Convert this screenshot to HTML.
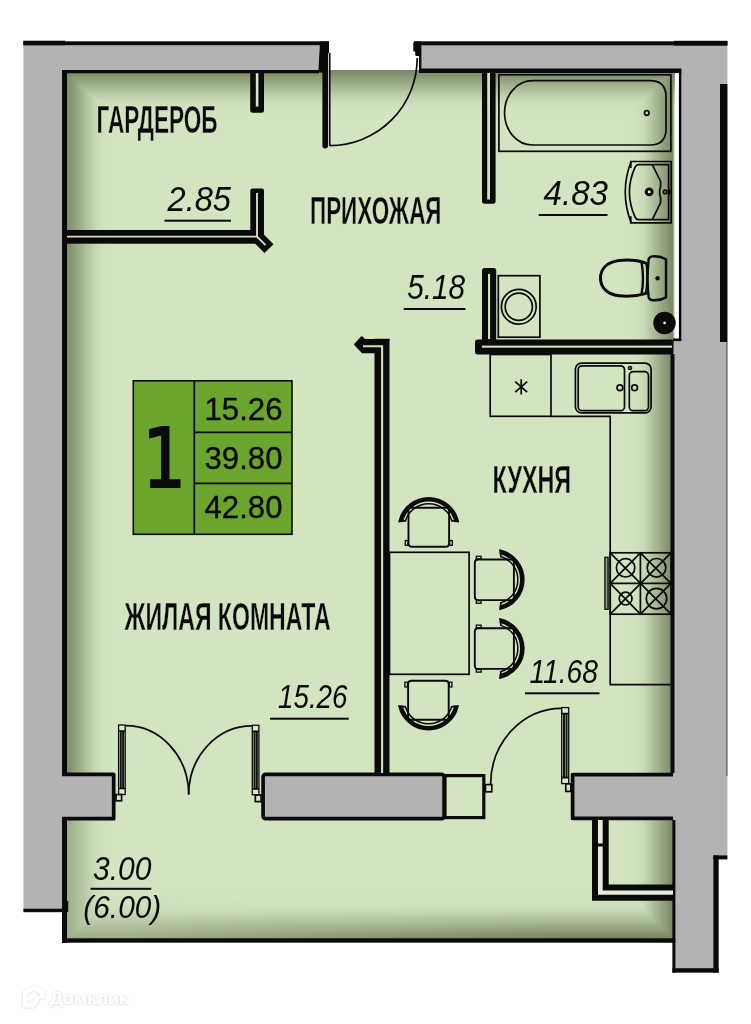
<!DOCTYPE html>
<html lang="ru"><head><meta charset="utf-8"><title>План квартиры</title>
<style>
html,body{margin:0;padding:0;background:#fff;}
body{width:751px;height:1024px;overflow:hidden;}
svg{display:block}
text{font-family:"Liberation Sans",sans-serif;fill:#0a0a0a;}
.lbl{font-weight:bold;font-size:38.8px;stroke:#d3e4c1;stroke-width:.4px;}
.num{font-style:italic;font-size:33px;}
.leg{font-size:31.5px;stroke:#0a0a0a;stroke-width:.35px;}
.k{fill:#0a0a0a;}
.g{fill:#b3b3b3;}
.ln{fill:none;stroke:#0a0a0a;stroke-width:1.7;}
</style></head>
<body>
<svg width="751" height="1024" viewBox="0 0 751 1024">
<defs>
<linearGradient id="shT" x1="0" y1="0" x2="0" y2="1"><stop offset="0" stop-color="#768662"/><stop offset="0.22" stop-color="#92a27e"/><stop offset="0.37" stop-color="#a5b692"/><stop offset="0.5" stop-color="#b7c8a4"/><stop offset="0.65" stop-color="#c8d9b6"/><stop offset="0.8" stop-color="#d0e1be"/><stop offset="1" stop-color="#d3e4c1"/></linearGradient>
<linearGradient id="shB" x1="0" y1="1" x2="0" y2="0"><stop offset="0" stop-color="#99aa86"/><stop offset="0.22" stop-color="#abbb98"/><stop offset="0.37" stop-color="#b7c7a4"/><stop offset="0.5" stop-color="#c2d3af"/><stop offset="0.65" stop-color="#ccddba"/><stop offset="0.8" stop-color="#d1e2bf"/><stop offset="1" stop-color="#d3e4c1"/></linearGradient>
<linearGradient id="shB2" x1="0" y1="1" x2="0" y2="0"><stop offset="0" stop-color="#71815d"/><stop offset="0.22" stop-color="#8f9f7b"/><stop offset="0.37" stop-color="#a3b490"/><stop offset="0.5" stop-color="#b6c6a3"/><stop offset="0.65" stop-color="#c7d8b5"/><stop offset="0.8" stop-color="#d0e1be"/><stop offset="1" stop-color="#d3e4c1"/></linearGradient>
<linearGradient id="shL" x1="0" y1="0" x2="1" y2="0"><stop offset="0" stop-color="#7b8b67"/><stop offset="0.22" stop-color="#95a582"/><stop offset="0.37" stop-color="#a8b895"/><stop offset="0.5" stop-color="#b8c9a6"/><stop offset="0.65" stop-color="#c8d9b6"/><stop offset="0.8" stop-color="#d0e1be"/><stop offset="1" stop-color="#d3e4c1"/></linearGradient>
<linearGradient id="shL2" x1="0" y1="0" x2="1" y2="0"><stop offset="0" stop-color="#9bac88"/><stop offset="0.22" stop-color="#acbd99"/><stop offset="0.37" stop-color="#b8c8a5"/><stop offset="0.5" stop-color="#c2d3b0"/><stop offset="0.65" stop-color="#ccddba"/><stop offset="0.8" stop-color="#d1e2bf"/><stop offset="1" stop-color="#d3e4c1"/></linearGradient>
<linearGradient id="shR" x1="1" y1="0" x2="0" y2="0"><stop offset="0" stop-color="#768662"/><stop offset="0.22" stop-color="#92a27e"/><stop offset="0.37" stop-color="#a5b692"/><stop offset="0.5" stop-color="#b7c8a4"/><stop offset="0.65" stop-color="#c8d9b6"/><stop offset="0.8" stop-color="#d0e1be"/><stop offset="1" stop-color="#d3e4c1"/></linearGradient>
<filter id="ws" x="-10%" y="-30%" width="120%" height="160%"><feDropShadow dx="0" dy="0.4" stdDeviation="1.1" flood-color="#000" flood-opacity=".2"/></filter>
<linearGradient id="mH" x1="0" y1="0" x2="1" y2="0"><stop offset="0.1" stop-color="#fff" stop-opacity="0"/><stop offset=".8" stop-color="#fff" stop-opacity="1"/></linearGradient>
<mask id="mkB" maskUnits="userSpaceOnUse" x="60" y="880" width="620" height="70"><rect x="60" y="880" width="620" height="70" fill="url(#mH)"/></mask>
<g id="chair">
<path d="M-28,-6.5 A28.75,28.75 0 0 1 28,-6.5" fill="none" stroke="#0a0a0a" stroke-width="4.6"/>
<path d="M-23.4,-6.5 A24.3,24.3 0 0 1 23.4,-6.5" fill="none" stroke="#0a0a0a" stroke-width="1.5"/>
<path d="M-30.3,-6.2 L-22.8,-7.4 M30.3,-6.2 L22.8,-7.4" fill="none" stroke="#0a0a0a" stroke-width="1.6"/>
<path d="M-20.2,-20.3 V15.3 Q-20.2,18.8 -16.7,18.8 H16.9 Q20.4,18.8 20.4,15.3 V-20.3 Z" fill="none" stroke="#0a0a0a" stroke-width="1.9"/>
<rect x="-23.4" y="12.5" width="2.6" height="4.8" fill="none" stroke="#0a0a0a" stroke-width="1.3"/>
<rect x="21" y="12.5" width="2.6" height="4.8" fill="none" stroke="#0a0a0a" stroke-width="1.3"/>
</g>
</defs>
<!-- floor -->
<rect x="62" y="70" width="613.2" height="873" fill="#d3e4c1"/>
<g style="mix-blend-mode:darken"><rect x="62" y="70" width="613" height="46" fill="url(#shT)"/></g>
<g style="mix-blend-mode:darken"><rect x="62" y="894" width="613" height="46" fill="url(#shB)"/></g>
<g style="mix-blend-mode:darken"><rect x="62" y="894" width="613" height="46" fill="url(#shB2)" mask="url(#mkB)"/></g>
<g style="mix-blend-mode:darken"><rect x="66.5" y="70" width="46" height="750" fill="url(#shL)"/></g>
<g style="mix-blend-mode:darken"><rect x="66.5" y="820" width="46" height="123" fill="url(#shL2)"/></g>
<g style="mix-blend-mode:darken"><rect x="627.5" y="70" width="46" height="873" fill="url(#shR)"/></g>

<!-- outer walls -->
<rect class="k" x="62" y="70" width="5" height="873"/>
<path class="g" d="M23.4,42 H320 L318,72 H62 V910 H23.4 Z"/>
<path class="g" d="M421,42 H727.4 V857 H718.6 V972.6 H673.5 V340 H680 V72 H421 Z"/>
<rect class="k" x="23.4" y="41.3" width="305.6" height="3.9"/>
<rect class="k" x="23.4" y="40.7" width="41.8" height="4.5"/>
<rect class="k" x="62" y="70" width="257" height="3.3"/>
<rect class="k" x="62" y="72" width="5" height="701"/>
<rect class="k" x="62" y="820" width="5" height="123"/>
<rect class="k" x="23.4" y="908.7" width="44" height="3.5"/>
<rect class="k" x="62" y="901" width="6.2" height="11"/>
<rect class="k" x="414" y="41.3" width="313.4" height="4"/>
<rect class="k" x="674" y="40.8" width="53.4" height="4.8"/>
<rect class="k" x="419" y="68.5" width="262.3" height="4.5"/>
<rect fill="#fff" x="675.2" y="73" width="3.9" height="265.5"/>
<rect class="k" x="678.9" y="69" width="2.4" height="272"/>
<rect class="k" x="673" y="338.5" width="8.3" height="2.6"/>
<rect class="k" x="720" y="84" width="7.4" height="258"/>
<rect fill="#3a3a3a" x="726.5" y="342" width="0.9" height="434"/>
<rect class="k" x="670.5" y="354" width="4" height="419"/>
<rect class="k" x="672.4" y="820" width="3" height="152.6"/>
<rect class="k" x="672.4" y="968.2" width="46.2" height="4.4"/>
<rect class="k" x="713.4" y="855.4" width="5.2" height="117.2"/>
<rect class="k" x="713.4" y="855.4" width="14" height="4"/>
<rect class="k" x="62" y="938.3" width="613.3" height="4.3"/>
<!-- entrance door -->
<path class="k" d="M320,41.5 H329 V53.3 H328 V146 Q328,148.4 325.2,148.4 Q322.4,148.4 322.4,146 V72.6 H318.2 Z"/>
<path d="M328.6,53.5 V145.5" stroke="#e6eedb" stroke-width="0.9" fill="none"/>
<path class="ln" d="M329.7,53 V146" stroke-width="1.1"/>
<path class="ln" d="M329.8,145.6 A87.5,87.5 0 0 0 417.2,58" stroke-width="1.4"/>
<path class="k" d="M413.3,43 Q413.3,41.5 415,41.5 H421.4 V73 H419 V56 H416.4 Q415.2,56 415.2,54.5 V51.5 H413.3 Z"/>
<!-- lower wall stubs -->
<rect class="g" x="62" y="774" width="52" height="45"/>
<path d="M62,774.4 H113.7 V818.7 H62" fill="none" stroke="#0a0a0a" stroke-width="3.7" stroke-linejoin="round"/>
<rect x="263.1" y="774.3" width="181" height="44.4" rx="2.5" fill="#b3b3b3" stroke="#0a0a0a" stroke-width="3.7"/>
<rect x="445" y="775.6" width="38.8" height="42" fill="none" stroke="#0a0a0a" stroke-width="3.2"/>
<rect class="g" x="572" y="774" width="102" height="45"/>
<path d="M673,774.6 H572.6 V818.4 H673" fill="none" stroke="#0a0a0a" stroke-width="3.7" stroke-linejoin="round"/>
<!-- interior walls -->
<rect class="k" x="250.2" y="72" width="13.8" height="40.8" rx="2.5"/>
<rect fill="#d6e4c6" x="255.8" y="73.3" width="2.6" height="33.3"/>
<rect class="k" x="62" y="230" width="202" height="13.7"/>
<rect class="k" x="250.3" y="188.6" width="13.7" height="53" rx="2"/>
<path d="M257.2,236.8 L269,248.6" stroke="#0a0a0a" stroke-width="12.6" fill="none"/>
<path d="M67,236.6 H257 M257,193 V236.6 L265.6,245.2" stroke="#cfe0bc" stroke-width="1.9" fill="none"/>
<rect class="k" x="482" y="72" width="13.6" height="131.8" rx="2.5"/>
<rect fill="#cfe0bc" x="487.2" y="73" width="2.8" height="126.5"/>
<rect class="k" x="482" y="268" width="14.2" height="80" rx="2.5"/>
<rect fill="#cfe0bc" x="488" y="274" width="2.1" height="65"/>
<rect class="k" x="475" y="339.5" width="198.5" height="15" rx="2.5"/>
<rect fill="#cfe0bc" x="482" y="345.6" width="190" height="2.1"/>
<rect class="k" x="374.5" y="338.75" width="15" height="435"/>
<path class="k" d="M388.5,340 H364.5 L361.8,337.3 L355.2,344.6 L362.6,352.2 H376 Z" stroke="#0a0a0a" stroke-width="2.2" stroke-linejoin="round"/>
<path d="M363,346.2 H382.1 V773" stroke="#cfe0bc" stroke-width="2.1" fill="none"/>

<!-- bathroom fixtures -->
<rect class="ln" x="498.9" y="74.8" width="172" height="76.5" stroke-width="1.8"/>
<path class="ln" d="M532.5,80.7 H650 Q666,80.7 666,96.7 V129 Q666,145 650,145 H532.5 A28,32.15 0 0 1 532.5,80.7 Z" stroke-width="1.8"/>
<circle class="ln" cx="646.75" cy="113" r="2.3" stroke-width="1.2"/>
<!-- washbasin -->
<path class="ln" d="M630.8,168 V161.5 H671.2 V222.8 H630.8 V216.3" stroke-width="1.9"/>
<path class="ln" d="M631,161.8 Q619.5,192.1 631,222.5" stroke-width="1.8"/>
<path class="ln" d="M638.5,164.6 H668.6 V219.6 H638.5 Q636.2,219.6 635.2,217.3 Q623.6,192.1 635.2,166.9 Q636.2,164.6 638.5,164.6 Z" stroke-width="1.8"/>
<path class="ln" d="M652.3,164.6 L660.6,181.5 V186.5 Q658.6,192 660.6,197.7 V202.7 L652.3,219.6" stroke-width="1.8"/>
<circle cx="649.2" cy="191.9" r="2.9" fill="#f4f8ee" stroke="#0a0a0a" stroke-width="3.1"/>
<circle class="ln" cx="665.1" cy="191.9" r="1.8" stroke-width="1"/>
<path class="ln" d="M669.2,189.6 Q671,191.9 669.2,194.2" stroke-width="1"/>
<!-- toilet -->
<path d="M646,263.2 C636,259.6 626,259.8 619,260.6 C607,262.3 600.5,269 600.5,278.2 C600.5,287.4 607,294.2 619,295.8 C626,296.6 636,296.6 646,293.4" fill="none" stroke="#0a0a0a" stroke-width="3" stroke-linecap="round"/>
<path d="M641.6,262.6 Q644.4,278.2 641.6,293.8" fill="none" stroke="#0a0a0a" stroke-width="2.4"/>
<path class="ln" d="M646.2,262.6 Q648.2,278.2 645.6,293.8" stroke-width="1.4"/>
<path d="M648.6,260 Q648.8,256.8 652.5,256.4 Q660,255.8 666,259.2 V297.4 Q660,300.8 652.5,300.2 Q648.8,299.8 648.6,296.6 Q646.6,278.3 648.6,260 Z" fill="none" stroke="#0a0a0a" stroke-width="2.4" stroke-linejoin="round"/>
<circle class="k" cx="657.6" cy="278.3" r="2.2"/>
<circle class="k" cx="664.5" cy="323" r="11.2"/>
<circle fill="#e6e6e6" cx="664.6" cy="322.9" r="1.4"/>
<!-- washing machine -->
<rect class="ln" x="498.3" y="275.7" width="41.6" height="61.5" stroke-width="1.4"/>
<circle class="ln" cx="518.8" cy="306.7" r="17.4" stroke-width="1.5"/>
<circle class="ln" cx="518.8" cy="306.7" r="13.6" stroke-width="2"/>
<!-- kitchen -->
<rect class="ln" x="490.2" y="354.5" width="60.8" height="61.8" stroke-width="1.6"/>
<path class="ln" d="M521.2,379.2 V394.6 M515.2,381.7 L527.2,392.1 M515.2,392.1 L527.2,381.7" stroke-width="1.8"/>
<path class="ln" d="M551,416.3 H610.2 V684.6 H671" stroke-width="2"/>
<rect class="ln" x="575.4" y="363.1" width="75.7" height="49.7" rx="6" stroke-width="2.5"/>
<rect class="ln" x="578.2" y="365.8" width="46.3" height="44.9" rx="4" stroke-width="2.3"/>
<rect class="ln" x="629.3" y="371.7" width="19.2" height="39" rx="4" stroke-width="2.3"/>
<circle class="ln" cx="619.9" cy="387.7" r="2.9" stroke-width="2.4"/>
<circle class="ln" cx="634.6" cy="387.7" r="2.9" stroke-width="2.4"/>
<circle class="ln" cx="630" cy="368" r="1.5" stroke-width="1.1"/>
<!-- stove -->
<rect class="ln" x="610.2" y="552.8" width="61" height="61.4" stroke-width="2.5"/>
<path class="ln" d="M640.4,552.8 V614.2 M610.2,583.3 H671" stroke-width="2.2"/>
<path class="ln" d="M610.2,552.8 L671,614.2 M671,552.8 L610.2,614.2 M640.4,552.8 L610.2,583.3 M640.4,552.8 L671,583.3 M610.2,583.3 L640.4,614.2 M671,583.3 L640.4,614.2" stroke-width="1.9"/>
<circle class="ln" cx="625.6" cy="567.8" r="9.2" stroke-width="2.2"/>
<circle class="ln" cx="656.5" cy="567.8" r="9.3" stroke-width="2.2"/>
<circle class="ln" cx="625.6" cy="598.6" r="6.4" stroke-width="2.2"/>
<circle class="ln" cx="656.5" cy="598.6" r="10.2" stroke-width="2.2"/>
<rect x="604.9" y="557.3" width="3.2" height="52" fill="#8e9b84" stroke="#0a0a0a" stroke-width="1.3"/>
<!-- table & chairs -->
<rect class="ln" x="389.5" y="552.3" width="79.6" height="122" stroke-width="1.9"/>
<use href="#chair" transform="translate(428.7,528)"/>
<use href="#chair" transform="translate(493.6,579.7) rotate(90)"/>
<use href="#chair" transform="translate(493.6,648.5) rotate(90)"/>
<use href="#chair" transform="translate(428.5,699.5) rotate(180)"/>
<!-- balcony doors -->
<rect x="118.6" y="725" width="6.6" height="69.5" fill="#dbe8cc" stroke="#0a0a0a" stroke-width="1.3"/>
<path d="M120.78,731 V788.5 M123.15,731 V788.5" stroke="#111" stroke-width="2" fill="none"/>
<path class="ln" d="M118.6,731 H125.19999999999999 M118.6,788.5 H125.19999999999999" stroke-width="1.1"/>
<rect class="ln" x="116" y="794.5" width="5.6" height="6.3" stroke-width="1.1"/>
<path class="ln" d="M125.5,725.7 A63.2,68.8 0 0 1 188.7,794.5" stroke-width="1.4"/>
<rect x="252.3" y="725.3" width="6.6" height="69.5" fill="#dbe8cc" stroke="#0a0a0a" stroke-width="1.3"/>
<path d="M254.48,731.3 V788.8 M256.85,731.3 V788.8" stroke="#111" stroke-width="2" fill="none"/>
<path class="ln" d="M252.3,731.3 H258.90000000000003 M252.3,788.8 H258.90000000000003" stroke-width="1.1"/>
<rect class="ln" x="255.3" y="795" width="5.8" height="6.6" stroke-width="1.1"/>
<path class="ln" d="M252,725.9 A63.3,68.6 0 0 0 188.7,794.5" stroke-width="1.4"/>
<!-- kitchen door -->
<rect x="561.7" y="707.6" width="7" height="76" fill="#dbe8cc" stroke="#0a0a0a" stroke-width="1.3"/>
<path d="M564.01,713.6 V777.6 M566.53,713.6 V777.6" stroke="#111" stroke-width="2" fill="none"/>
<path class="ln" d="M561.7,713.6 H568.7 M561.7,777.6 H568.7" stroke-width="1.1"/>
<rect class="ln" x="565.8" y="783.8" width="5" height="7.6" stroke-width="1.1"/>
<rect class="ln" x="485.4" y="784.6" width="6.4" height="7.2" stroke-width="1.3"/>
<path class="ln" d="M561.5,708.3 A71,76.5 0 0 0 490.6,784.6" stroke-width="1.4"/>
<!-- loggia frame -->
<path d="M600.3,820 V892.6 H673" fill="none" stroke="#e4edd8" stroke-width="5"/>
<path d="M595,820 V897.7 H673" fill="none" stroke="#0a0a0a" stroke-width="6"/>
<path d="M605.7,820 V887.6 H673" fill="none" stroke="#0a0a0a" stroke-width="6"/>
<rect class="k" x="597" y="843.5" width="7" height="3"/>
<!-- legend -->
<rect x="133.3" y="380.8" width="158.7" height="153.5" fill="#6ba52e" stroke="#0a0a0a" stroke-width="1.6"/>
<path class="ln" d="M194.3,380.8 V534.3 M194.3,432.3 H292 M194.3,483.3 H292" stroke-width="1.6"/>

<!-- labels -->
<g opacity=".999">
<text class="lbl" x="96.5" y="132.5" textLength="121" lengthAdjust="spacingAndGlyphs">ГАРДЕРОБ</text>
<text class="lbl" x="310" y="223.7" textLength="131.5" style="font-size:39.4px" lengthAdjust="spacingAndGlyphs">ПРИХОЖАЯ</text>
<text class="lbl" x="492.6" y="493" textLength="78.5" lengthAdjust="spacingAndGlyphs">КУХНЯ</text>
<text class="lbl" x="124.6" y="630.4" textLength="206" lengthAdjust="spacingAndGlyphs">ЖИЛАЯ КОМНАТА</text>
<!-- areas -->
<text class="num" x="167.5" y="210.6" textLength="63.5" style="font-size:35px" lengthAdjust="spacingAndGlyphs">2.85</text>
<rect class="k" x="164.5" y="219.7" width="66.5" height="2"/>
<text class="num" x="543.5" y="205" textLength="64.5" style="font-size:35px" lengthAdjust="spacingAndGlyphs">4.83</text>
<rect class="k" x="538.7" y="214" width="68.8" height="2"/>
<text class="num" x="407.2" y="298.7" textLength="58" style="font-size:35px" lengthAdjust="spacingAndGlyphs">5.18</text>
<rect class="k" x="403.7" y="308" width="61.8" height="2"/>
<text class="num" x="278" y="708" textLength="69.5" style="font-size:34px" lengthAdjust="spacingAndGlyphs">15.26</text>
<rect class="k" x="270" y="717.7" width="78.7" height="2"/>
<text class="num" x="529.5" y="682.7" textLength="68.5" style="font-size:32.3px" lengthAdjust="spacingAndGlyphs">11.68</text>
<rect class="k" x="525" y="692.3" width="74.5" height="2"/>
<text class="num" x="93" y="879.5" textLength="58.5" style="font-size:32.7px" lengthAdjust="spacingAndGlyphs">3.00</text>
<rect class="k" x="90.5" y="887.8" width="60.8" height="2"/>
<text class="num" x="83.3" y="917.5" textLength="78" lengthAdjust="spacingAndGlyphs" style="font-size:31px">(6.00)</text>
<!-- legend text -->
<text x="142.6" y="486.8" style="font-family:'DejaVu Sans','Liberation Sans',sans-serif;font-size:81.5px;stroke:#0a0a0a;stroke-width:2px;stroke-linejoin:miter" textLength="43.5" lengthAdjust="spacingAndGlyphs">1</text>
<text class="leg" x="204.5" y="420" textLength="78" lengthAdjust="spacingAndGlyphs">15.26</text>
<text class="leg" x="204.5" y="469.3" textLength="78" lengthAdjust="spacingAndGlyphs">39.80</text>
<text class="leg" x="204.5" y="518.3" textLength="78" lengthAdjust="spacingAndGlyphs">42.80</text>
</g>
<!-- watermark -->
<g filter="url(#ws)">
<path d="M33.8,985.5 L44.5,991.5 V998.5 H38.5 V1002.5 L33.8,1007.3 H23 V991.5 Z M27.3,993.8 V1003 H31.8 L34.3,1000.5 V996.5 H40 V993.8 L33.8,990.3 Z" fill="#fff" fill-rule="evenodd"/>
<text x="50" y="1003.7" textLength="78" lengthAdjust="spacingAndGlyphs" style="font-weight:bold;font-size:16.5px;fill:#fff">Домклик</text>
</g>
</svg>
</body></html>
